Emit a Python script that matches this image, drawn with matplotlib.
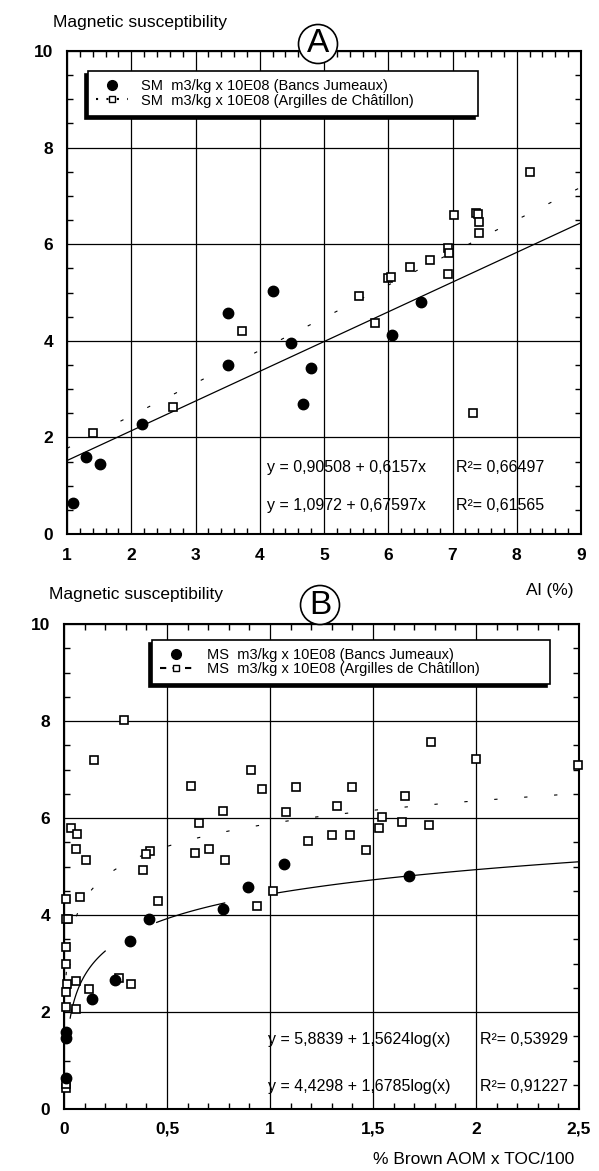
import matplotlib
matplotlib.use("Agg")
import matplotlib.pyplot as plt
import numpy as np
from matplotlib.lines import Line2D
from matplotlib.ticker import MultipleLocator

plt.rcParams['font.family'] = ['Liberation Sans', 'DejaVu Sans']

# ---- panel A : MS vs Al (%)
al_bancs = [1.09, 1.29, 1.52, 2.17, 3.50, 3.50, 4.21, 4.48, 4.68, 4.80, 6.06, 6.51]
ms_bancs_a = [0.64, 1.60, 1.45, 2.28, 4.57, 3.49, 5.03, 3.95, 2.69, 3.43, 4.12, 4.80]
al_arg = [1.41, 2.65, 3.73, 5.54, 5.80, 6.00, 6.05, 6.34, 6.65, 6.93, 6.94, 6.93,
          7.03, 7.32, 7.37, 7.39, 7.41, 7.41, 8.20]
ms_arg_a = [2.10, 2.63, 4.21, 4.93, 4.37, 5.30, 5.33, 5.53, 5.67, 5.93, 5.81, 5.38,
            6.60, 2.50, 6.65, 6.62, 6.45, 6.24, 7.50]
fit_a_bancs = (0.90508, 0.6157)
fit_a_arg = (1.0972, 0.67597)
eq_a = ["y = 0,90508 + 0,6157x", "y = 1,0972 + 0,67597x"]
r2_a = ["R²= 0,66497", "R²= 0,61565"]
labels_a = ["SM  m3/kg x 10E08 (Bancs Jumeaux)", "SM  m3/kg x 10E08 (Argilles de Châtillon)"]

# ---- panel B : MS vs % Brown AOM x TOC/100
aom_bancs = [0.011, 0.011, 0.011, 0.137, 0.247, 0.319, 0.411, 0.774, 0.895, 1.069, 1.673]
ms_bancs_b = [0.64, 1.46, 1.59, 2.26, 2.65, 3.47, 3.92, 4.12, 4.57, 5.05, 4.81]
aom_arg = [0.290, 0.145, 0.906, 0.616, 0.960, 0.770, 0.656, 0.032, 0.065, 0.056, 0.105,
           0.416, 0.400, 0.382, 0.637, 0.705, 0.782, 0.456, 0.937, 0.080, 0.008, 0.010,
           0.020, 0.008, 0.008, 0.016, 0.056, 0.008, 0.120, 0.326, 0.266, 0.008, 0.056,
           0.008, 0.008,
           1.013, 1.078, 1.128, 1.186, 1.300, 1.323, 1.388, 1.400, 1.465, 1.530, 1.544,
           1.640, 1.657, 1.770, 1.781, 2.000, 2.495]
ms_arg_b = [8.02, 7.20, 6.98, 6.66, 6.60, 6.14, 5.90, 5.80, 5.66, 5.37, 5.13,
            5.32, 5.25, 4.92, 5.28, 5.36, 5.13, 4.28, 4.19, 4.38, 4.33, 3.92,
            3.92, 3.35, 3.00, 2.57, 2.64, 2.41, 2.47, 2.58, 2.71, 2.10, 2.07,
            0.43, 0.52,
            4.50, 6.12, 6.63, 5.52, 5.64, 6.25, 5.64, 6.63, 5.33, 5.79, 6.03,
            5.92, 6.46, 5.86, 7.56, 7.22, 7.10]
fit_b_arg = (5.8839, 1.5624)
fit_b_bancs = (4.4298, 1.6785)
eq_b = ["y = 5,8839 + 1,5624log(x)", "y = 4,4298 + 1,6785log(x)"]
r2_b = ["R²= 0,53929", "R²= 0,91227"]
labels_b = ["MS  m3/kg x 10E08 (Bancs Jumeaux)", "MS  m3/kg x 10E08 (Argilles de Châtillon)"]
solid_b_pieces = [(0.03, 0.2), (0.45, 0.78), (1.0, 2.5)]

W, H = 599, 1171
fig = plt.figure(figsize=(W / 100, H / 100), dpi=100)


def axes_px(l, t, r, b):
    return fig.add_axes([l / W, 1 - b / H, (r - l) / W, (b - t) / H])


def style(ax, xticks, xlabels, xminor, xpad):
    ax.set_xticks(xticks, labels=xlabels, fontsize=12.5, fontweight='bold')
    ax.set_yticks([0, 2, 4, 6, 8, 10], labels=['0', '2', '4', '6', '8', '10'],
                  fontsize=12.5, fontweight='bold')
    ax.xaxis.set_minor_locator(MultipleLocator(xminor))
    ax.yaxis.set_minor_locator(MultipleLocator(0.5))
    ax.tick_params(which='both', direction='in', top=True, right=True, width=1, color='black')
    ax.tick_params(which='major', length=0)
    ax.tick_params(axis='y', which='major', pad=10)
    ax.tick_params(axis='x', which='major', pad=xpad)
    ax.tick_params(which='minor', length=4)
    ax.set_axisbelow(True)
    ax.grid(True, which='major', color='black', lw=0.9)
    for s in ax.spines.values():
        s.set_linewidth(1.5)


sparse_dash = (0, (3, 24))
shadow = {'ox': -2.2, 'oy': -2.2, 'facecolor': 'black', 'edgecolor': 'black', 'alpha': 1}
leg_kw = dict(loc='upper left', mode='expand', fontsize=10.5, frameon=True, fancybox=False,
              framealpha=1, edgecolor='black', shadow=shadow, labelspacing=0.02,
              handlelength=2.2, borderpad=0.55, borderaxespad=0, numpoints=1)

# ================= panel A
axA = axes_px(67, 51, 581, 534)
axA.set_xlim(1, 9)
axA.set_ylim(0, 10)
style(axA, range(1, 10), [str(i) for i in range(1, 10)], 0.2, 10)

xa = np.linspace(1, 9, 50)
axA.plot(xa, fit_a_bancs[0] + fit_a_bancs[1] * xa, color='black', lw=0.9)
axA.plot(xa, fit_a_arg[0] + fit_a_arg[1] * xa, color='black', lw=0.8, ls=sparse_dash)
axA.plot(al_bancs, ms_bancs_a, 'o', color='black', ms=7.5, zorder=4)
axA.plot(al_arg, ms_arg_a, 's', mfc='white', mec='black', mew=1.2, ms=6, zorder=4)

for i, yy in enumerate([1.37, 0.58]):
    axA.text(4.12, yy, eq_a[i], fontsize=11.5, va='center', ha='left')
    axA.text(7.06, yy, r2_a[i], fontsize=11.5, va='center', ha='left')

hA = [Line2D([], [], marker='o', color='black', ls='none', ms=7),
      Line2D([], [], marker='s', mfc='white', mec='black', color='black', ls=(0, (1, 4)), ms=5)]
legA = axA.legend(hA, labels_a, bbox_to_anchor=(0.041, 0.958, 0.759, 0),
                  handletextpad=0.9, **leg_kw)
legA.get_frame().set_linewidth(1.2)

fig.text(53 / W, 1 - 22 / H, "Magnetic susceptibility", fontsize=12.5, ha='left', va='center')
fig.text(573 / W, 1 - 590 / H, "Al (%)", fontsize=12.5, ha='right', va='center')
fig.text(318 / W, 1 - 44 / H, "A", fontsize=24, ha='center', va='center',
         bbox=dict(boxstyle='circle,pad=0.12', fc='white', ec='black', lw=1.2))

# ================= panel B
axB = axes_px(64, 624, 579, 1109)
axB.set_xlim(0, 2.5)
axB.set_ylim(0, 10)
style(axB, [0, 0.5, 1, 1.5, 2, 2.5], ['0', '0,5', '1', '1,5', '2', '2,5'], 0.1, 9)

for lo, hi in solid_b_pieces:
    xs = np.linspace(lo, hi, 60)
    axB.plot(xs, fit_b_bancs[0] + fit_b_bancs[1] * np.log10(xs), color='black', lw=0.9)
xb = np.linspace(0.01, 2.5, 300)
axB.plot(xb, fit_b_arg[0] + fit_b_arg[1] * np.log10(xb), color='black', lw=0.8, ls=sparse_dash)
axB.plot(aom_arg, ms_arg_b, 's', mfc='white', mec='black', mew=1.2, ms=6, zorder=4, clip_on=False)
axB.plot(aom_bancs, ms_bancs_b, 'o', color='black', ms=7.5, zorder=5, clip_on=False)

for i, yy in enumerate([1.43, 0.46]):
    axB.text(0.99, yy, eq_b[i], fontsize=11.5, va='center', ha='left')
    axB.text(2.02, yy, r2_b[i], fontsize=11.5, va='center', ha='left')

hB = [Line2D([], [], marker='o', color='black', ls='none', ms=7),
      Line2D([], [], marker='s', mfc='white', mec='black', color='black', ls=(0, (3, 3)), ms=5)]
legB = axB.legend(hB, labels_b, bbox_to_anchor=(0.171, 0.967, 0.773, 0),
                  handletextpad=1.0, **leg_kw)
legB.get_frame().set_linewidth(1.2)

fig.text(49 / W, 1 - 595 / H, "Magnetic susceptibility", fontsize=12.5, ha='left', va='center')
fig.text(574 / W, 1 - 1160 / H, "% Brown AOM x TOC/100", fontsize=12.5, ha='right', va='center')
fig.text(320 / W, 1 - 605 / H, "B", fontsize=24, ha='center', va='center',
         bbox=dict(boxstyle='circle,pad=0.12', fc='white', ec='black', lw=1.2))

fig.savefig("out.png", dpi=100)
